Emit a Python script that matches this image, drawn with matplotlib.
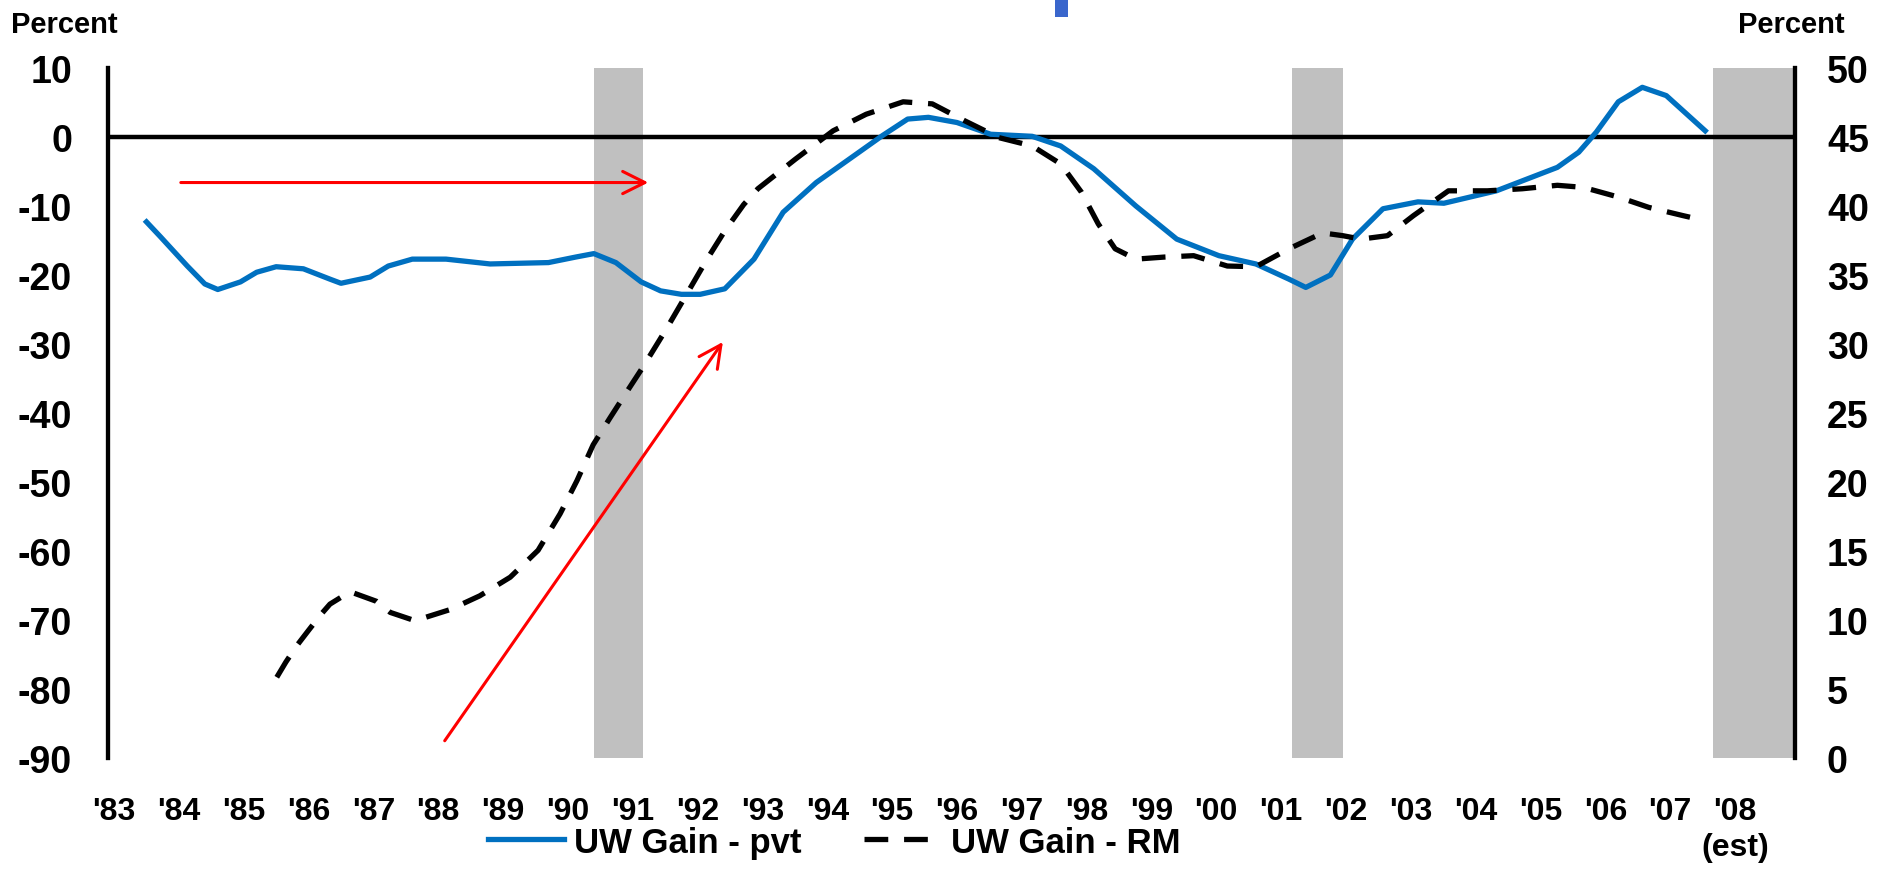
import matplotlib.pyplot as plt
from matplotlib.patches import Rectangle

plt.rcParams['font.family'] = ['Liberation Sans', 'DejaVu Sans']
plt.rcParams['font.weight'] = 'bold'

# years on x axis, tick labels
years = list(range(83, 109))
year_labels = ["'%02d" % (y % 100) for y in years[:-1]] + ["'08\n(est)"]

# UW Gain - pvt (left axis, percent)
pvt_x = [83.5, 83.72, 84.13, 84.4, 84.6, 84.95, 85.2, 85.5, 85.92, 86.33, 86.5, 86.95,
         87.23, 87.6, 88.12, 88.8, 89.7, 90.12, 90.4, 90.74, 91.13, 91.43, 91.75,
         92.04, 92.42, 92.87, 93.32, 93.83, 94.34, 94.85, 95.24, 95.56, 96.0, 96.52,
         97.16, 97.6, 98.11, 98.76, 99.39, 100.04, 100.61, 101.12, 101.38, 101.76,
         102.1, 102.57, 103.11, 103.51, 104.32, 105.26, 105.59, 105.86, 106.2, 106.57,
         106.94, 107.54]
pvt_y = [-12.3, -14.5, -18.7, -21.3, -22.1, -21.0, -19.6, -18.8, -19.1, -20.6, -21.2, -20.3,
         -18.7, -17.7, -17.7, -18.4, -18.2, -17.4, -16.9, -18.2, -21.0, -22.3, -22.8,
         -22.8, -22.0, -17.7, -10.9, -6.6, -3.2, 0.2, 2.6, 2.85, 2.1, 0.4,
         0.1, -1.3, -4.6, -10.0, -14.8, -17.2, -18.4, -20.6, -21.8, -20.0,
         -14.8, -10.4, -9.4, -9.6, -7.8, -4.4, -2.2, 0.7, 5.1, 7.2,
         6.0, 0.9]

# UW Gain - RM (right axis, percent)
rm_x = [85.51, 85.65, 85.82, 86.0, 86.2, 86.33, 86.64, 87.05, 87.26, 87.64, 88.18, 88.64,
        89.11, 89.54, 89.88, 90.14, 90.39, 90.65, 90.91, 91.16, 91.52, 91.88, 92.14,
        92.42, 92.71, 92.93, 93.51, 94.09, 94.6, 95.17, 95.62, 96.13, 96.65, 97.16,
        97.6, 97.92, 98.18, 98.44, 98.76, 99.2, 99.65, 100.17, 100.61, 101.12, 101.64,
        101.95, 102.23, 102.64, 103.04, 103.58, 104.18, 104.72, 105.26, 105.66, 106.2,
        106.67, 107.2, 107.34]
rm_y = [5.85, 6.95, 8.15, 9.25, 10.45, 11.15, 12.05, 11.35, 10.55, 9.95, 10.75, 11.75,
        13.1, 15.05, 17.7, 20.1, 22.7, 24.65, 26.55, 28.35, 31.1, 34.0, 36.1,
        38.2, 40.1, 41.25, 43.4, 45.45, 46.65, 47.55, 47.4, 46.15, 44.95, 44.35,
        43.05, 41.0, 38.7, 36.9, 36.15, 36.3, 36.4, 35.65, 35.6, 36.9, 38.05,
        37.85, 37.6, 37.85, 39.3, 41.1, 41.1, 41.25, 41.5, 41.35, 40.65,
        39.9, 39.3, 39.15]

# recessions (start, end)
recessions = [(90.4, 91.16), (101.17, 101.95), (107.66, 109.5)]

# red arrows: (start, end) in left-axis units
arrows = [((84.03, -6.6), (91.24, -6.6)), ((88.1, -87.5), (92.39, -29.7))]

fig = plt.figure(figsize=(18.83, 8.95), dpi=100)
ax = fig.add_axes([108 / 1883, 1 - 759 / 895, 1687 / 1883, 690 / 895])
ax2 = ax.twinx()

for s, e in recessions:
    ax.axvspan(s, e, color='#C0C0C0', lw=0, zorder=0)

ax.axhline(0, color='black', lw=3.2, zorder=2)
ax.plot(pvt_x, pvt_y, color='#0070C0', lw=3.8, zorder=3, label='UW Gain - pvt')
ax2.plot(rm_x, rm_y, color='black', lw=3.8, dashes=(4.5, 3), zorder=3, label='UW Gain - RM')

for (x0, y0), (x1, y1) in arrows:
    ax.annotate('', xy=(x1, y1), xytext=(x0, y0),
                arrowprops=dict(arrowstyle='->,head_length=0.4,head_width=0.2',
                                color='red', lw=2.2, mutation_scale=40,
                                shrinkA=0, shrinkB=0), zorder=4)

ax.set_xlim(82.907, 108.925)
ax.set_ylim(-90, 10)
ax2.set_ylim(0, 50)
ax.set_xticks(years)
ax.set_xticklabels(year_labels, fontsize=23, fontweight='bold', linespacing=1.3)
ax.set_yticks(range(-90, 11, 10))
ax.set_yticklabels([str(v) for v in range(-90, 11, 10)], fontsize=27, fontweight='bold')
ax2.set_yticks(range(0, 51, 5))
ax2.set_yticklabels([str(v) for v in range(0, 51, 5)], fontsize=27, fontweight='bold')

ax.tick_params(axis='x', length=0, pad=27)
ax.tick_params(axis='y', length=0, pad=26)
ax2.tick_params(axis='y', length=0, pad=23)

for a in (ax, ax2):
    a.spines['top'].set_visible(False)
    a.spines['bottom'].set_visible(False)
    a.spines['left'].set_linewidth(3)
    a.spines['right'].set_linewidth(3)

fig.text(11 / 1883, 1 - 33 / 895, 'Percent', fontsize=21, fontweight='bold', ha='left', va='baseline')
fig.text(1845 / 1883, 1 - 33 / 895, 'Percent', fontsize=21, fontweight='bold', ha='right', va='baseline')

# small blue mark at the top edge
fig.patches.append(Rectangle((1055 / 1883, 1 - 18 / 895), 13 / 1883, 18 / 895,
                             transform=fig.transFigure, color='#3A66CC', lw=0))

h1, l1 = ax.get_legend_handles_labels()
h2, l2 = ax2.get_legend_handles_labels()
fig.legend(h1 + h2, l1 + l2, loc='center', bbox_to_anchor=(0.443, 0.058), ncol=2,
           frameon=False, prop={'size': 25, 'weight': 'bold'},
           handlelength=2.2, handletextpad=0.3, columnspacing=1.8)

fig.savefig('out.png', dpi=100)
